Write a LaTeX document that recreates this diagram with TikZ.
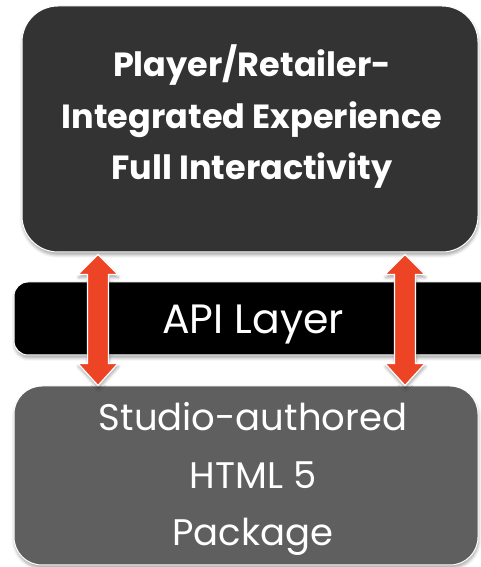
\documentclass[tikz,border=0pt]{standalone}
\usepackage{fontspec}
\setmainfont{Poppins}
\usetikzlibrary{calc,shadows.blur}
\definecolor{topgray}{HTML}{333333}
\definecolor{botgray}{HTML}{5F5F5F}
\definecolor{arrowred}{RGB}{238,68,38}
\begin{document}
\begin{tikzpicture}[x=1pt,y=1pt,
  softshadow/.style={blur shadow={shadow xshift=0.5pt, shadow yshift=-3pt,
      shadow blur radius=3pt, shadow opacity=35}},
  panel/.style={rounded corners=#1, draw=white, line width=1pt, inner sep=0pt,
      softshadow},
  label/.style={text=white, align=center, inner sep=0pt},
  dblarrow/.style={fill=arrowred, draw=white, line width=1.2pt, line join=miter,
      softshadow}]
\useasboundingbox (0,0) rectangle (480,567);

% the three layers
\node[panel=36pt, fill=topgray, minimum width=456pt, minimum height=246pt] (top) at (250,438) {};
\node[panel=14pt, fill=black, minimum width=481pt, minimum height=73pt] (api) at (254.5,248.5) {};
\node[panel=28pt, fill=botgray, minimum width=464pt, minimum height=179pt] (bot) at (246,91.5) {};

% their captions
\node[label, font=\bfseries\fontsize{33.5}{51.5}\selectfont] (toptext) at (252,450)
  {Player/Retailer-\\Integrated Experience\\Full Interactivity};
\node[label, anchor=base, font=\fontsize{41}{48}\selectfont] (apitext) at (253,233) {API Layer};
\node[label, font=\fontsize{37}{57.5}\selectfont] (bottext) at (253,88)
  {Studio-authored\\HTML 5\\Package};

% two-headed block arrows through the API layer
\coordinate (lx) at (98,0);
\coordinate (rx) at (405,0);
\foreach \c in {lx,rx}{
  \path[dblarrow] let \p1=($(top.south -| \c)+(0,-2)$), \p2=(bot.north -| \c) in
    (\x1,\y1) -- ({\x1+20pt},{\y1-20pt}) -- ({\x1+10.5pt},{\y1-20pt})
    -- ({\x1+10.5pt},{\y2+22pt}) -- ({\x1+20pt},{\y2+22pt}) -- (\x1,\y2)
    -- ({\x1-20pt},{\y2+22pt}) -- ({\x1-10.5pt},{\y2+22pt})
    -- ({\x1-10.5pt},{\y1-20pt}) -- ({\x1-20pt},{\y1-20pt}) -- cycle;
}
\end{tikzpicture}
\end{document}
